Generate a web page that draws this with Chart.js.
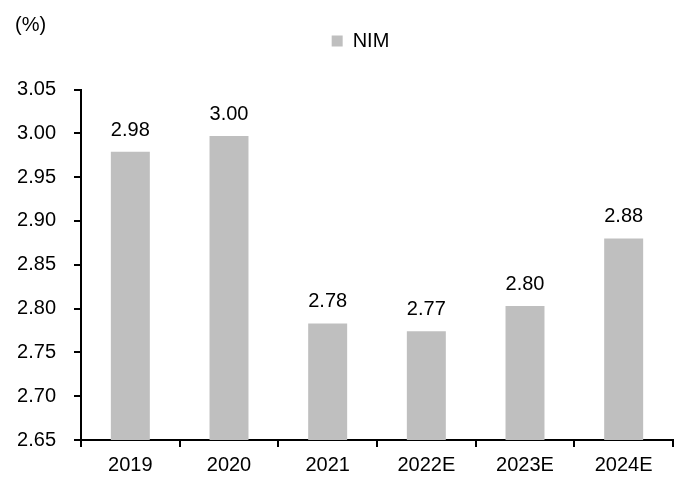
<!DOCTYPE html>
<html lang="ko">
<head>
<meta charset="UTF-8">
<title>NIM</title>
<script src="https://cdn.jsdelivr.net/npm/chart.js"></script>
<style>
  html, body { margin: 0; padding: 0; background: #fff; }
  #wrap { position: relative; width: 683px; height: 477px; }
  #unit {
    position: absolute; left: 15px; top: 12px;
    font: 20px "Liberation Sans", Arial, sans-serif; line-height: 24px; color: #000;
  }
</style>
</head>
<body>
<div id="wrap">
  <canvas id="nimChart" width="683" height="477"></canvas>
  <div id="unit">(%)</div>
</div>
<script>
// données
const years = ['2019', '2020', '2021', '2022E', '2023E', '2024E'];
const nim = [2.979, 2.997, 2.783, 2.774, 2.803, 2.880];
const yTicks = [2.65, 2.70, 2.75, 2.80, 2.85, 2.90, 2.95, 3.00, 3.05];

const FONT = { family: '"Liberation Sans", Arial, sans-serif', size: 20 };
const GREY = '#bfbfbf';

// valeurs au-dessus des barres
const barLabels = {
  id: 'barLabels',
  afterDatasetsDraw(chart) {
    const ctx = chart.ctx;
    const meta = chart.getDatasetMeta(0);
    ctx.save();
    ctx.font = FONT.size + 'px ' + FONT.family;
    ctx.fillStyle = '#000';
    ctx.textAlign = 'center';
    ctx.textBaseline = 'alphabetic';
    meta.data.forEach((bar, i) => {
      ctx.fillText(nim[i].toFixed(2), bar.x, bar.y - 16);
    });
    ctx.restore();
  }
};

// remonte la légende et la décale un peu à droite
const legendShift = {
  id: 'legendShift',
  afterLayout(chart) {
    const lg = chart.legend;
    lg.top -= 28.5; lg.bottom -= 28.5;
    lg.left += 16; lg.right += 16;
  }
};

new Chart(document.getElementById('nimChart'), {
  type: 'bar',
  data: {
    labels: years,
    datasets: [{
      label: 'NIM',
      data: nim,
      backgroundColor: GREY,
      borderWidth: 0,
      barPercentage: 0.395,
      categoryPercentage: 1
    }]
  },
  options: {
    responsive: false,
    animation: false,
    layout: { padding: { left: 16, right: 10, top: 59.5, bottom: -6 } },
    plugins: {
      legend: {
        display: true,
        labels: {
          color: '#000',
          font: FONT,
          boxWidth: 11,
          boxHeight: 11,
          padding: 0
        }
      },
      tooltip: { enabled: false }
    },
    scales: {
      x: {
        offset: true,
        grid: {
          offset: true,
          drawOnChartArea: false,
          color: '#000',
          tickLength: 7,
          lineWidth: 2
        },
        border: { color: '#000', width: 2 },
        ticks: { color: '#000', font: FONT, padding: 6 }
      },
      y: {
        min: 2.65,
        max: 3.05,
        afterBuildTicks(scale) {
          scale.ticks = yTicks.map(v => ({ value: v }));
        },
        afterFit(scale) {
          scale.width = 65;
        },
        grid: {
          drawOnChartArea: false,
          color: '#000',
          tickLength: 7,
          lineWidth: 2
        },
        border: { color: '#000', width: 2 },
        ticks: {
          color: '#000',
          font: FONT,
          padding: 18,
          callback: v => Number(v).toFixed(2)
        }
      }
    }
  },
  plugins: [barLabels, legendShift]
});
</script>
</body>
</html>
